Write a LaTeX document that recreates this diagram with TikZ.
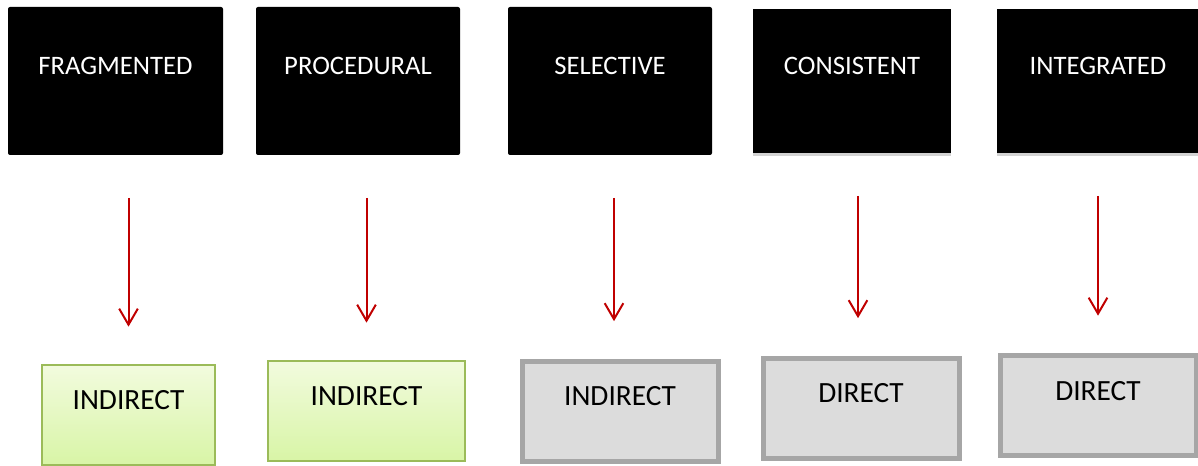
\documentclass[tikz,border=0pt]{standalone}
\usepackage{fontspec}
\setmainfont{Carlito}
\usepackage{xcolor}
\usetikzlibrary{arrows.meta,shadows}
\definecolor{arrowred}{HTML}{C00000}
\definecolor{greenline}{HTML}{9BBB59}
\definecolor{greentop}{HTML}{F2FBDE}
\definecolor{greenbot}{HTML}{D8F5A6}
\definecolor{greyline}{HTML}{A6A6A6}
\definecolor{greyfill}{HTML}{DCDCDC}

\begin{document}
\begin{tikzpicture}[x=0.75pt,y=-0.75pt,
    level/.style={fill=black,rounded corners=1.5pt,inner sep=0pt,minimum height=111pt},
    levtxt/.style={label={[white,yshift=11.25pt,font=\fontsize{20}{24}\selectfont]center:#1}},
    greenbox/.style={draw=greenline,line width=1.5pt,top color=greentop,bottom color=greenbot,
        inner sep=0pt,minimum height=75pt},
    greybox/.style={draw=greyline,line width=3.75pt,fill=greyfill,inner sep=0pt,
        minimum width=147pt,minimum height=75pt},
    modetxt/.style={label={[black,yshift=11pt,font=\fontsize{22}{26}\selectfont]center:#1}},
    flow/.style={draw=arrowred,line width=1.5pt,-{Straight Barb[length=12pt,width=14pt]},
        shorten <=32pt,shorten >=28pt}]
    \useasboundingbox (0,0) rectangle (1198,466);
    \node[level,minimum width=161.25pt,levtxt=FRAGMENTED] (t1) at (115.5,81) {};
    \node[level,minimum width=153pt,levtxt=PROCEDURAL] (t2) at (358,81) {};
    \node[level,minimum width=153pt,levtxt=SELECTIVE] (t3) at (610,81) {};
    \node[level,rounded corners=0pt,minimum width=148.5pt,minimum height=108pt,
        drop shadow={shadow xshift=0pt,shadow yshift=-2pt,opacity=.35},levtxt=CONSISTENT] (t4) at (852,81) {};
    \node[level,rounded corners=0pt,minimum width=151.5pt,minimum height=108pt,
        drop shadow={shadow xshift=0pt,shadow yshift=-2pt,opacity=.35},levtxt=INTEGRATED] (t5) at (1098,81) {};
    \node[greenbox,minimum width=129.75pt,modetxt=INDIRECT] (b1) at (128.5,415) {};
    \node[greenbox,minimum width=147.75pt,modetxt=INDIRECT] (b2) at (366.5,411) {};
    \node[greybox,modetxt=INDIRECT] (b3) at (620,411) {};
    \node[greybox,modetxt=DIRECT] (b4) at (861,408) {};
    \node[greybox,modetxt=DIRECT] (b5) at (1098,405.5) {};
    \draw[flow] (b1.north |- t1.south) -- (b1.north);
    \draw[flow] (b2.north |- t2.south) -- (b2.north);
    \draw[flow] ([xshift=-4.5pt]b3.north |- t3.south) -- ([xshift=-4.5pt]b3.north);
    \draw[flow] ([xshift=-2.25pt]b4.north |- t4.south) -- ([xshift=-2.25pt]b4.north);
    \draw[flow] (b5.north |- t5.south) -- (b5.north);
\end{tikzpicture}
\end{document}
